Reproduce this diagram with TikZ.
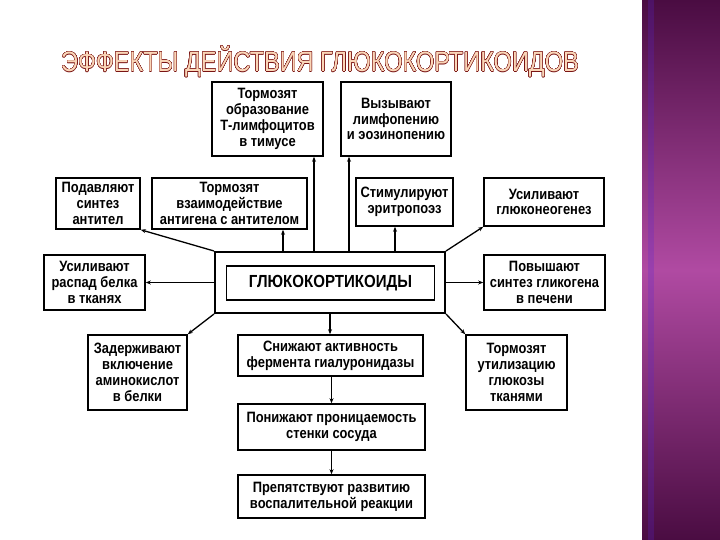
\documentclass[tikz,border=0pt]{standalone}
\usepackage{fontspec}
\setmainfont{Liberation Sans}
\newfontfamily\titlefont[FakeStretch=0.84]{Liberation Sans}
\newfontfamily\boxfont[FakeStretch=0.86]{Liberation Sans}
\usepackage{contour}
\contourlength{0.3pt}
\contournumber{24}
\usetikzlibrary{arrows.meta}
\definecolor{titlefill}{HTML}{FAD6B8}
\definecolor{titleline}{HTML}{7A1414}
\definecolor{barDark}{HTML}{4A0C42}
\definecolor{barMid}{HTML}{B04AA2}
\begin{document}
\begin{tikzpicture}[x=1pt,y=-1pt,
  eff/.style={draw=black, line width=1.6pt, fill=white, align=center,
    font=\boxfont\bfseries\fontsize{15}{15.8}\selectfont, inner sep=1pt},
  arr/.style={line width=1.3pt, -{Stealth[length=5pt,width=4pt]}}]
\useasboundingbox (0,0) rectangle (720,540);
\fill[white] (0,0) rectangle (720,540);
% purple side bar
\shade[top color=barDark, bottom color=barDark, middle color=barMid] (642,0) rectangle (720,540);
\fill[blue!50!barMid, opacity=0.25] (648,0) rectangle (654,540);
% title
\node (title) at (320,62) {\titlefont\fontsize{28}{30}\selectfont\contour{titleline}{\textcolor{titlefill}{ЭФФЕКТЫ ДЕЙСТВИЯ ГЛЮКОКОРТИКОИДОВ}}};
% central
\node[draw, line width=2pt, minimum width=230, minimum height=61] (c) at (330,282.5) {};
\node[draw, line width=1.8pt, minimum width=208, minimum height=34,
  font=\boxfont\bfseries\fontsize{17.5}{19}\selectfont] (ci) at (330.5,283) {ГЛЮКОКОРТИКОИДЫ};
% effect boxes
\node[eff, minimum width=111, minimum height=74] (b1) at (267.5,119) {Тормозят\\образование\\Т-лимфоцитов\\в тимусе};
\node[eff, minimum width=110, minimum height=74] (b2) at (396,119) {Вызывают\\лимфопению\\и эозинопению};
\node[eff, minimum width=84, minimum height=51] (b3) at (98,203.5) {Подавляют\\синтез\\антител};
\node[eff, minimum width=155, minimum height=51] (b4) at (229.5,203.5) {Тормозят\\взаимодействие\\антигена с антителом};
\node[eff, minimum width=97, minimum height=48] (b5) at (404.5,202) {Стимулируют\\эритропоэз};
\node[eff, minimum width=120, minimum height=48] (b6) at (544,202) {Усиливают\\глюконеогенез};
\node[eff, minimum width=101, minimum height=55] (b7) at (94.5,282.5) {Усиливают\\распад белка\\в тканях};
\node[eff, minimum width=121, minimum height=55] (b8) at (544.5,282.5) {Повышают\\синтез гликогена\\в печени};
\node[eff, minimum width=99, minimum height=75] (b9) at (137.5,372.5) {Задерживают\\включение\\аминокислот\\в белки};
\node[eff, minimum width=185, minimum height=41] (b10) at (330.5,355.5) {Снижают активность\\фермента гиалуронидазы};
\node[eff, minimum width=101, minimum height=75] (b11) at (516.5,372.5) {Тормозят\\утилизацию\\глюкозы\\тканями};
\node[eff, minimum width=187, minimum height=46] (b12) at (331.5,427) {Понижают проницаемость\\стенки сосуда};
\node[eff, minimum width=187, minimum height=43] (b13) at (331.5,496.5) {Препятствуют развитию\\воспалительной реакции};
% connectors
\draw[arr] ([xshift=-16pt]c.north) -- ([xshift=-16pt]c.north |- b1.south);
\draw[arr] ([xshift=19pt]c.north) -- ([xshift=19pt]c.north |- b2.south);
\draw[arr] ([xshift=-47pt]c.north) -- ([xshift=-47pt]c.north |- b4.south);
\draw[arr] ([xshift=65pt]c.north) -- ([xshift=65pt]c.north |- b5.south);
\draw[arr] (c.north west) -- (b3.south east);
\draw[arr] (c.north east) -- (b6.south west);
\draw[arr] (c.west) -- (b7.east);
\draw[arr] (c.east) -- (b8.west);
\draw[arr] (c.south west) -- (b9.north east);
\draw[arr] (c.south east) -- (b11.north west);
\draw[arr] (c.south) -- (c.south |- b10.north);
\draw[arr] (b10.south -| b12.north) -- (b12.north);
\draw[arr] (b12.south) -- (b13.north);
\end{tikzpicture}
\end{document}
